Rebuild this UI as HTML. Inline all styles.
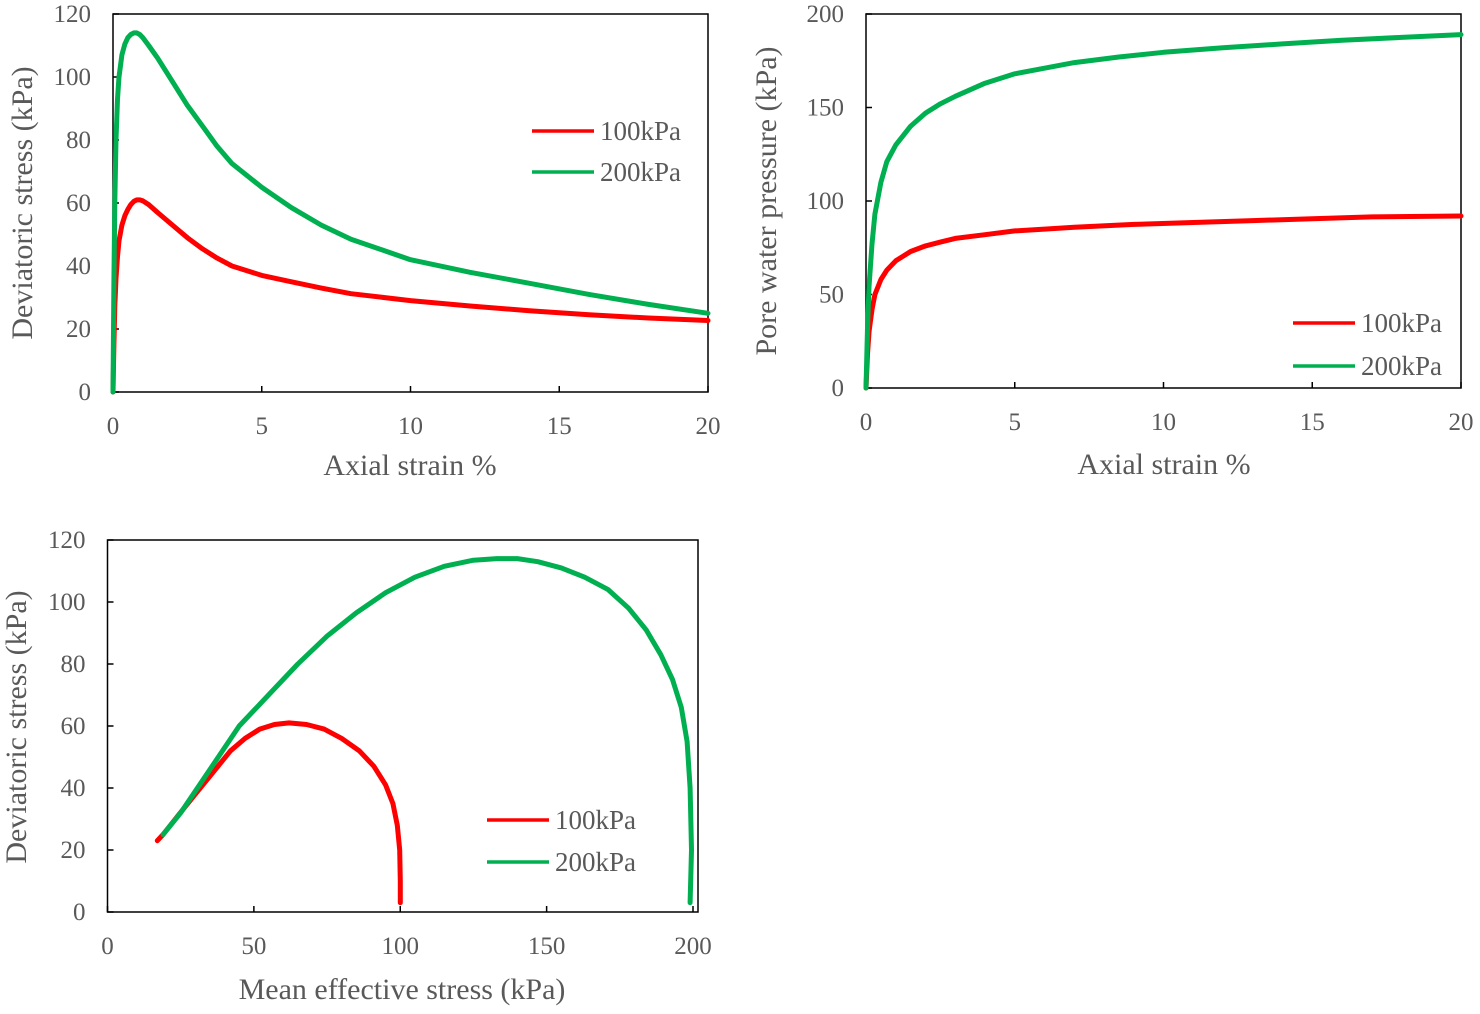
<!DOCTYPE html>
<html><head><meta charset="utf-8"><style>
body{margin:0;background:#fff;}
svg text{font-family:"Liberation Serif",serif;fill:#595959;}
</style></head><body>
<svg id="s" width="1480" height="1009" xmlns="http://www.w3.org/2000/svg"></svg>
<script>
// Chart 1: deviatoric stress vs axial strain
const strain1 = [0,0.03,0.06,0.1,0.15,0.2,0.3,0.4,0.5,0.6,0.7,0.8,0.9,1.0,1.2,1.5,2,2.5,3,3.5,4,5,6,7,8,10,12,14,16,18,20];
const q100 = [0,15,27,36,43,48,53,56,58,59.5,60.5,61,61,60.7,59.5,57,53,49,45.5,42.5,40,37,35,33,31.2,29,27.3,25.8,24.5,23.5,22.7];
const q200 = [0,35,60,80,93,100,107,110.5,112.5,113.5,114,114,113.5,112.5,110,106,98.5,91,84.5,78,72.5,65,58.5,53,48.5,42,38,34.5,31,27.8,25];
// Chart 2: pore water pressure vs axial strain
const strainU100 = [0,0.05,0.1,0.2,0.3,0.5,0.7,1,1.5,2,2.5,3,4,5,6,7,9,11,13,15,17,20];
const u100 = [0,18,30,42,50,58,63,68,73,76,78,80,82,84,85,86,87.5,88.5,89.5,90.5,91.5,92];
const strainU200 = [0,0.05,0.1,0.2,0.3,0.5,0.7,1,1.5,2,2.5,3,4,5,6,7,8.5,10,12,14,16,18,20];
const u200 = [0,32,54,77,93,110,121,130,140,147,152,156,163,168,171,174,177,179.5,182,184,186,187.5,189];
// Chart 3: stress paths
const p100 = [100,100,99.8,99,97.5,95,91,86,80,74,68,62,57,52,47,42,36,30,24,19,17];
const qp100 = [3,10,20,28,35,41,47,52,56,59,60.5,61,60.5,59,56,52,45,38,31,25,23];
const p200 = [199,199.5,199,198,196,193,189,184,178,171,163,155,147,140,133,125,115,105,95,85,75,65,55,45,35,25,19];
const qp200 = [3,20,40,55,66,75,83,91,98,104,108,111,113,114,114,113.5,111.5,108,103,96.5,89,80,70,60,46,32,25];
const xTicks1 = [0,5,10,15,20];
const yTicks1 = [0,20,40,60,80,100,120];
const yTicks2 = [0,50,100,150,200];
const xTicks3 = [0,50,100,150,200];
const seriesNames = ["100kPa","200kPa"];

const NS="http://www.w3.org/2000/svg";
const svg=document.getElementById('s');
function mk(tag,attrs,parent){const e=document.createElementNS(NS,tag);for(const k in attrs)e.setAttribute(k,attrs[k]);(parent||svg).appendChild(e);return e;}
function lin(d0,d1,r0,r1){return v=>r0+(v-d0)/(d1-d0)*(r1-r0);}

function chart(cfg){
  const g=mk('g',{});
  
  
  const X=lin(cfg.xd[0],cfg.xd[1],cfg.L,cfg.R), Y=lin(cfg.yd[0],cfg.yd[1],cfg.B,cfg.T);
  const box=mk('rect',{x:cfg.L,y:cfg.T,width:cfg.R2-cfg.L,height:cfg.B-cfg.T,fill:'none',stroke:'#000','stroke-width':1.5},g);
  
  
  cfg.xt.forEach(v=>{
    mk('line',{x1:X(v),x2:X(v),y1:cfg.B,y2:cfg.B-6,stroke:'#000','stroke-width':1.5},g);
    const t=mk('text',{x:X(v),y:cfg.B+42,'text-anchor':'middle','font-size':25},g);t.textContent=v;
    
    
  });
  cfg.yt.forEach(v=>{
    mk('line',{x1:cfg.L,x2:cfg.L+6,y1:Y(v),y2:Y(v),stroke:'#000','stroke-width':1.5},g);
    const t=mk('text',{x:cfg.L-22,y:Y(v)+8,'text-anchor':'end','font-size':25},g);t.textContent=v;
    
    
  });
  const xt=mk('text',{x:cfg.xl[0],y:cfg.xl[1],'text-anchor':'middle','font-size':30},g);xt.textContent=cfg.xlabel;
  
  
  const yt=mk('text',{x:0,y:0,'text-anchor':'middle','font-size':30,transform:`translate(${cfg.yl[0]},${cfg.yl[1]}) rotate(-90)`},g);yt.textContent=cfg.ylabel;
  
  
  const cols=['#ff0000','#00b050'];
  cfg.series.forEach((s,i)=>{
    const d=s[0].map((xv,j)=>(j?'L':'M')+X(xv).toFixed(1)+','+Y(s[1][j]).toFixed(1)).join(' ');
    const p=mk('path',{d:d,fill:'none',stroke:cols[i],'stroke-width':5,'stroke-linejoin':'round','stroke-linecap':'round'},g);
    
    
    const ly=cfg.leg[1]+i*cfg.leg[2];
    const ll=mk('line',{x1:cfg.leg[0],x2:cfg.leg[0]+62,y1:ly,y2:ly,stroke:cols[i],'stroke-width':3.5},g);
    
    
    const lt=mk('text',{x:cfg.leg[0]+68,y:ly+9,'font-size':27},g);lt.textContent=seriesNames[i];
    
    
  });
}
chart({name:'deviatoric-stress-chart',L:113,R:708,R2:708,T:14,B:392,xd:[0,20],yd:[0,120],xt:xTicks1,yt:yTicks1,
  xlabel:'Axial strain %',ylabel:'Deviatoric stress (kPa)',xl:[410,475],yl:[32,203],
  series:[[strain1,q100],[strain1,q200]],leg:[532,131,41]});
chart({name:'pore-pressure-chart',L:866,R:1461,R2:1461,T:14,B:388,xd:[0,20],yd:[0,200],xt:xTicks1,yt:yTicks2,
  xlabel:'Axial strain %',ylabel:'Pore water pressure (kPa)',xl:[1164,474],yl:[776,201],
  series:[[strainU100,u100],[strainU200,u200]],leg:[1293,323,43]});
chart({name:'stress-path-chart',L:107.5,R:693,R2:698,T:540,B:912,xd:[0,200],yd:[0,120],xt:xTicks3,yt:yTicks1,
  xlabel:'Mean effective stress (kPa)',ylabel:'Deviatoric stress (kPa)',xl:[402,999],yl:[26,727],
  series:[[p100,qp100],[p200,qp200]],leg:[487,820,42]});
</script>
</body></html>
